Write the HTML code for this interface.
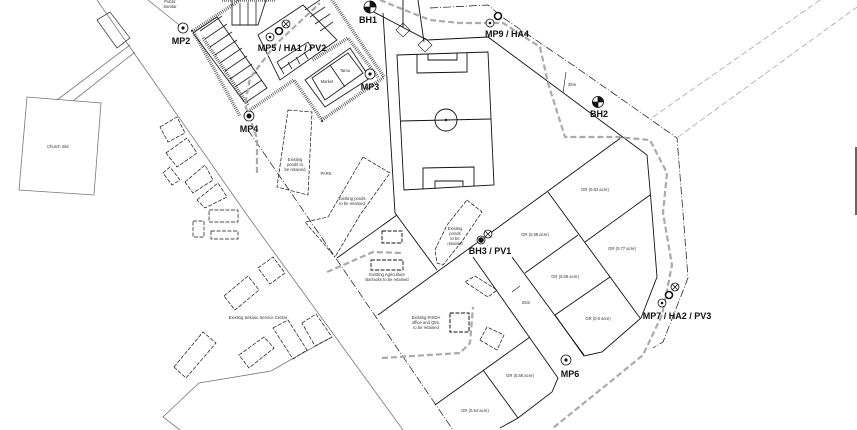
<!DOCTYPE html>
<html><head><meta charset="utf-8"><style>
html,body{margin:0;padding:0;background:#fff;}
svg{display:block;}
.t{font-family:"Liberation Sans",sans-serif;font-size:4.2px;fill:#333;text-anchor:middle;}
.b{font-family:"Liberation Sans",sans-serif;font-size:9px;font-weight:bold;fill:#111;text-anchor:middle;}
</style></head><body>
<svg width="857" height="430" viewBox="0 0 857 430" xmlns="http://www.w3.org/2000/svg">
<rect width="857" height="430" fill="#fff"/>
<g fill="none" stroke="#777" stroke-width="0.8">
<polyline points="97,0 247,215 403,430"/>
<polyline points="148,0 183,28"/>
<polygon points="27,97 101,103 94,195 19,190"/>
<line x1="57" y1="100" x2="130" y2="45"/><line x1="73" y1="101" x2="135" y2="52"/>
<polygon points="97,20 110,12 130,38 117,48" stroke="#444"/>
<polyline points="332,337 292,359 271,371 199,383 163,417 180,430"/>
</g>
<g fill="none" stroke="#999" stroke-width="0.7" stroke-dasharray="6 3">
<line x1="653" y1="117" x2="820" y2="0"/><line x1="678" y1="137" x2="857" y2="7"/>
</g>
<line x1="856" y1="147" x2="856" y2="215" stroke="#000" stroke-width="1.2"/>
<g fill="none" stroke="#222" stroke-width="3.5" stroke-dasharray="0.6 1.4">
<polyline points="240,0 193,31 240,116"/>
<polyline points="250,110 294,80 322,120 384,77 332,0"/>
<polyline points="203,38 248,105"/>
<polyline points="222,0 275,0"/>
<polyline points="313,60 348,38 378,77"/>
</g>
<g fill="none" stroke="#222" stroke-width="0.9">
<polygon points="193,33 217,17 267,88 245,103"/>
<polygon points="258,35 303,5 337,40 280,80"/>
<polygon points="312,78 348,53 363,73 325,100"/>
<polygon points="305,80 350,48 370,78 325,107"/>
<line x1="330" y1="65" x2="345" y2="87"/>
<polyline points="232,0 232,25 258,25 266,0"/>
</g>
<g stroke="#222" stroke-width="0.8">
<line x1="200" y1="31" x2="222" y2="16" /><line x1="205" y1="39" x2="227" y2="24"/><line x1="210" y1="47" x2="232" y2="32"/><line x1="215" y1="55" x2="237" y2="40"/><line x1="220" y1="63" x2="242" y2="48"/><line x1="225" y1="71" x2="247" y2="56"/><line x1="230" y1="79" x2="252" y2="64"/><line x1="235" y1="87" x2="257" y2="72"/><line x1="240" y1="95" x2="262" y2="80"/>
<line x1="240" y1="3" x2="240" y2="25"/><line x1="248" y1="2" x2="248" y2="25"/><line x1="256" y1="1" x2="256" y2="25"/>
<line x1="305" y1="10" x2="320" y2="0"/><line x1="310" y1="17" x2="325" y2="7"/><line x1="315" y1="24" x2="330" y2="14"/><line x1="320" y1="31" x2="333" y2="22"/>
<line x1="280" y1="67" x2="284" y2="74"/><line x1="288" y1="62" x2="292" y2="69"/><line x1="296" y1="57" x2="300" y2="64"/><line x1="304" y1="52" x2="308" y2="59"/>
<polyline points="277,62 308,42 312,48 281,69 277,62" fill="none"/>
</g>
<g fill="none" stroke="#111" stroke-width="0.9">
<polyline points="383,13 395,213 437,270"/>
<line x1="378" y1="315" x2="622" y2="137"/>
<polyline points="370,10 427,40 488,37 647,155 652,213 657,277 641,318 602,352 584,356 555,315"/>
<polygon points="397,55 488,52 494,185 404,190"/>
<line x1="401" y1="121" x2="491" y2="119"/>
<circle cx="446" cy="120" r="11"/><circle cx="446" cy="120" r="0.8" fill="#111"/>
<polyline points="417,54 417,73 467,72 467,53"/>
<polyline points="428,54 428,60 457,60 457,53"/>
<polyline points="423,189 423,168 474,167 474,186"/>
<polyline points="435,188 435,181 463,181 463,186"/>
<line x1="337" y1="258" x2="397" y2="215"/>
<polyline points="473,257 558,378 552,392 518,418 500,428"/>
<line x1="512" y1="257" x2="584" y2="355"/>
<line x1="525" y1="273" x2="578" y2="235"/>
<line x1="548" y1="192" x2="640" y2="318"/>
<line x1="585" y1="242" x2="650" y2="195"/>
<line x1="555" y1="315" x2="610" y2="277"/>
<line x1="530" y1="337" x2="435" y2="405"/>
<line x1="483" y1="370" x2="518" y2="418"/>
<line x1="403" y1="0" x2="403" y2="27"/><line x1="418" y1="0" x2="424" y2="42"/>
<polygon points="403,23 410,30 403,37 396,30" stroke-width="0.6"/>
<polygon points="425,38 432,45 425,52 418,45" stroke-width="0.6"/>
<line x1="512" y1="292" x2="520" y2="286" stroke-width="0.6"/>
<line x1="566" y1="72" x2="563" y2="93" stroke-width="0.6"/>
</g>
<g fill="none" stroke="#111" stroke-width="0.7" stroke-dasharray="8 2 1 2">
<polyline points="248,130 335,257 453,430"/>
<polyline points="430,8 488,5 502,17 580,70 677,138 683,213 688,278 663,342 653,348"/>
</g>
<g fill="none" stroke="#111" stroke-width="0.7" stroke-dasharray="4 1.5">
<polygon points="288,110 312,112 308,195 277,187"/>
<polyline points="363,157 390,173 360,215 335,257"/>
<polyline points="363,157 328,217 305,222 335,257"/>
<polygon points="467,200 482,212 463,240 443,265 437,263 435,250 447,225"/>
<polygon points="160,127 177,117 185,133 168,142"/>
<polygon points="166,153 187,138 197,153 177,167"/>
<polygon points="163,173 170,167 180,180 172,185"/>
<polygon points="185,182 205,165 213,180 193,193"/>
<polygon points="197,200 218,183 227,197 205,208"/>
<rect x="209" y="210" width="29" height="12"/>
<rect x="193" y="221" width="11" height="16"/>
<rect x="211" y="231" width="27" height="8"/>
<polygon points="258,268 273,257 285,273 270,284"/>
<polygon points="224,296 248,276 259,290 235,310"/>
<polygon points="174,367 203,332 216,343 186,378"/>
<polygon points="239,355 264,337 274,348 249,368"/>
<polygon points="273,328 288,320 307,350 293,359"/>
<polygon points="302,323 316,314 332,337 315,346"/>
<rect x="382" y="231" width="20" height="12" stroke-width="0.9"/>
<rect x="371" y="260" width="32" height="10" stroke-width="0.9"/>
<rect x="450" y="313" width="19" height="19" stroke-width="1"/>
<polygon points="465,282 475,276 497,290 488,297"/>
<polygon points="480,340 487,327 504,335 497,350"/>
</g>
<g fill="none" stroke="#aaa" stroke-width="2.2" stroke-dasharray="6 3">
<polyline points="257,173 257,138 245,105 250,78 275,45 320,3"/>
<polyline points="380,0 397,7 430,20 460,23 490,23 503,23 540,47 548,83 565,137 617,137 650,140 667,173 663,213 672,265 662,315 643,355 610,382 553,428"/>
<polyline points="327,272 373,252 402,253"/>
<polyline points="382,358 460,353 470,343 473,307"/>
</g>
<g stroke="#111" stroke-width="0.8">
<circle cx="370" cy="7" r="6" fill="#fff"/>
<path d="M370,7 L370,1 A6,6 0 0 1 376,7 Z M370,7 L370,13 A6,6 0 0 1 364,7 Z" fill="#111"/>
<circle cx="598" cy="102" r="5.5" fill="#fff"/>
<path d="M598,102 L598,96.5 A5.5,5.5 0 0 1 603.5,102 Z M598,102 L598,107.5 A5.5,5.5 0 0 1 592.5,102 Z" fill="#111"/>
<g fill="#fff">
<circle cx="183" cy="28" r="5"/><circle cx="270" cy="37" r="4"/><circle cx="279" cy="31" r="3.5" stroke-width="1.6"/><circle cx="286" cy="24" r="4"/>
<circle cx="370" cy="74" r="5"/><circle cx="249" cy="116" r="5"/><circle cx="490" cy="23" r="4"/><circle cx="498" cy="16" r="3.5" stroke-width="1.6"/>
<circle cx="488" cy="234" r="4"/><circle cx="481" cy="240" r="4"/>
<circle cx="662" cy="303" r="4"/><circle cx="669" cy="295" r="3.5" stroke-width="1.6"/><circle cx="675" cy="287" r="4"/>
<circle cx="566" cy="360" r="5"/>
</g>
<g fill="#111" stroke="none"><circle cx="183" cy="28" r="1.6"/><circle cx="270" cy="37" r="1.3"/><circle cx="370" cy="74" r="1.6"/><circle cx="249" cy="116" r="2.5"/><circle cx="490" cy="23" r="1.3"/><circle cx="566" cy="360" r="1.6"/><circle cx="662" cy="303" r="1.3"/><circle cx="481" cy="240" r="2.8"/></g>
<path d="M283,21 L289,27 M289,21 L283,27 M485,231 L491,237 M491,231 L485,237 M672,284 L678,290 M678,284 L672,290" fill="none"/>
</g>
<g>
<text class="b" x="368" y="23">BH1</text>
<text class="b" x="507" y="37">MP9 / HA4</text>
<text class="b" x="599" y="117">BH2</text>
<text class="b" x="181" y="44">MP2</text>
<text class="b" x="292" y="51">MP5 / HA1 / PV2</text>
<text class="b" x="370" y="90">MP3</text>
<text class="b" x="249" y="132">MP4</text>
<text class="b" x="490" y="254">BH3 / PV1</text>
<text class="b" x="677" y="319">MP7 / HA2 / PV3</text>
<text class="b" x="570" y="377">MP6</text>
</g>
<g>
<text class="t" x="170" y="3">Public</text><text class="t" x="170" y="8">Sanitar</text>
<text class="t" x="58" y="148">Church Site</text>
<text class="t" x="327" y="83">Market</text><text class="t" x="345" y="72">Tamu</text>
<text class="t" x="295" y="161">Existing</text><text class="t" x="295" y="166">ponds to</text><text class="t" x="295" y="171">be retained</text>
<text class="t" x="326" y="175">PARK</text>
<text class="t" x="352" y="200">Existing ponds</text><text class="t" x="352" y="205">to be retained</text>
<text class="t" x="455" y="230">Existing</text><text class="t" x="455" y="235">ponds</text><text class="t" x="455" y="240">to be</text><text class="t" x="455" y="245">retained</text>
<text class="t" x="387" y="276">Existing Agriculture</text><text class="t" x="387" y="281">Barracks to be retained</text>
<text class="t" x="426" y="319">Existing RISDA</text><text class="t" x="426" y="324">office and Qtrs.</text><text class="t" x="426" y="329">to be retained</text>
<text class="t" x="258" y="319">Existing Sekusu Service Centre</text>
<text class="t" x="595" y="191">GR (0.63 acre)</text>
<text class="t" x="535" y="236">GR (0.58 acre)</text>
<text class="t" x="622" y="250">GR (0.77 acre)</text>
<text class="t" x="565" y="278">GR (0.58 acre)</text>
<text class="t" x="598" y="320">GR (0.6 acre)</text>
<text class="t" x="520" y="377">GR (0.58 acre)</text>
<text class="t" x="475" y="412">GR (0.54 acre)</text>
<text class="t" x="526" y="304">25m</text>
<text class="t" x="572" y="86">25m</text>
</g>
</svg>
</body></html>
